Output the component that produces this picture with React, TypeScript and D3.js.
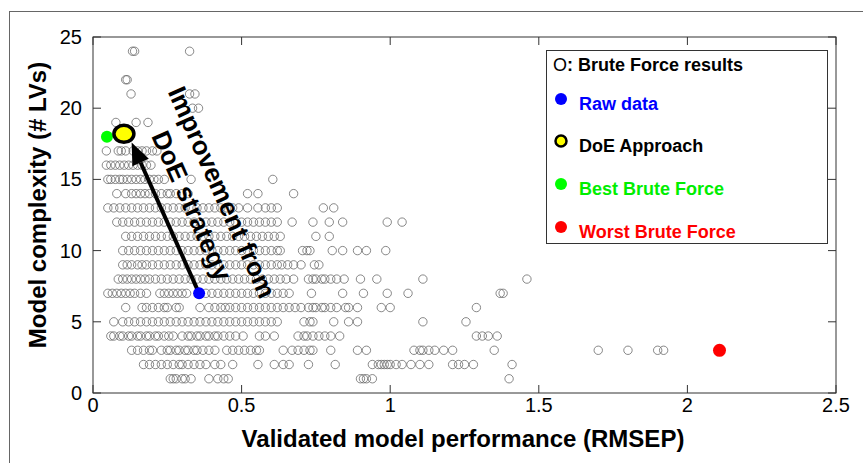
import React, { useEffect, useRef } from "react";
import * as d3 from "d3";

// brute force results, x (RMSEP) per number of LVs
const lv1 = [0.26, 0.27, 0.28, 0.30, 0.31, 0.33, 0.39, 0.42, 0.44, 0.455, 0.90, 0.91, 0.92, 0.94, 1.40];
const lv2 = [0.17, 0.19, 0.21, 0.23, 0.25, 0.27, 0.29, 0.30, 0.32, 0.34, 0.36, 0.38, 0.41, 0.43, 0.47, 0.555, 0.61, 0.64, 0.66, 0.725, 0.815, 0.94, 0.96, 0.97, 0.98, 0.99, 1.0, 1.02, 1.04, 1.07, 1.1, 1.13, 1.21, 1.23, 1.25, 1.28, 1.41];
const lv3 = [0.13, 0.15, 0.17, 0.19, 0.20, 0.23, 0.25, 0.26, 0.28, 0.29, 0.31, 0.32, 0.34, 0.35, 0.37, 0.39, 0.41, 0.45, 0.47, 0.49, 0.51, 0.53, 0.55, 0.56, 0.64, 0.67, 0.69, 0.71, 0.73, 0.74, 0.80, 0.89, 0.92, 1.08, 1.10, 1.11, 1.13, 1.15, 1.18, 1.21, 1.35, 1.70, 1.80, 1.90, 1.92];
const lv4 = [0.06, 0.07, 0.09, 0.10, 0.12, 0.13, 0.15, 0.16, 0.18, 0.19, 0.21, 0.22, 0.24, 0.255, 0.27, 0.30, 0.32, 0.33, 0.35, 0.36, 0.38, 0.39, 0.41, 0.42, 0.44, 0.46, 0.48, 0.505, 0.56, 0.58, 0.61, 0.69, 0.71, 0.72, 0.74, 0.76, 0.78, 0.80, 0.83, 1.29, 1.31, 1.33, 1.36];
const lv5 = [0.07, 0.10, 0.12, 0.14, 0.16, 0.18, 0.20, 0.22, 0.24, 0.26, 0.28, 0.30, 0.32, 0.34, 0.36, 0.38, 0.40, 0.42, 0.44, 0.46, 0.48, 0.50, 0.52, 0.54, 0.56, 0.58, 0.60, 0.62, 0.71, 0.73, 0.74, 0.81, 0.86, 0.89, 1.11, 1.255];
const lv6 = [0.11, 0.165, 0.18, 0.20, 0.22, 0.24, 0.25, 0.28, 0.29, 0.36, 0.39, 0.41, 0.43, 0.445, 0.46, 0.48, 0.50, 0.52, 0.54, 0.56, 0.58, 0.60, 0.62, 0.64, 0.66, 0.68, 0.70, 0.725, 0.74, 0.75, 0.77, 0.78, 0.80, 0.82, 0.85, 0.86, 0.89, 0.97, 1.0, 1.29];
const lv7 = [0.05, 0.065, 0.08, 0.095, 0.11, 0.125, 0.14, 0.16, 0.18, 0.225, 0.24, 0.255, 0.27, 0.285, 0.30, 0.315, 0.38, 0.40, 0.42, 0.44, 0.46, 0.48, 0.50, 0.52, 0.54, 0.56, 0.58, 0.60, 0.62, 0.64, 0.66, 0.735, 0.84, 0.91, 0.99, 1.06, 1.37, 1.38];
const lv8 = [0.085, 0.10, 0.115, 0.13, 0.145, 0.16, 0.175, 0.19, 0.21, 0.23, 0.25, 0.27, 0.29, 0.31, 0.33, 0.35, 0.37, 0.39, 0.41, 0.43, 0.45, 0.47, 0.49, 0.51, 0.53, 0.55, 0.57, 0.59, 0.61, 0.63, 0.65, 0.675, 0.725, 0.74, 0.75, 0.77, 0.78, 0.80, 0.82, 0.845, 0.90, 0.955, 1.11, 1.46];
const lv9 = [0.10, 0.115, 0.13, 0.15, 0.165, 0.18, 0.20, 0.22, 0.24, 0.26, 0.28, 0.30, 0.32, 0.34, 0.36, 0.38, 0.40, 0.42, 0.44, 0.46, 0.48, 0.50, 0.52, 0.54, 0.56, 0.58, 0.60, 0.62, 0.635, 0.655, 0.675, 0.70, 0.745, 0.76];
const lv10 = [0.10, 0.12, 0.14, 0.16, 0.18, 0.20, 0.22, 0.24, 0.26, 0.28, 0.30, 0.32, 0.34, 0.36, 0.38, 0.40, 0.42, 0.44, 0.46, 0.48, 0.50, 0.52, 0.54, 0.56, 0.58, 0.60, 0.62, 0.63, 0.705, 0.72, 0.73, 0.805, 0.84, 0.89, 0.92, 0.985];
const lv11 = [0.11, 0.13, 0.15, 0.17, 0.19, 0.21, 0.23, 0.25, 0.27, 0.29, 0.31, 0.33, 0.35, 0.37, 0.39, 0.41, 0.43, 0.45, 0.47, 0.49, 0.51, 0.53, 0.55, 0.57, 0.59, 0.61, 0.63, 0.75, 0.795];
const lv12 = [0.08, 0.10, 0.12, 0.14, 0.16, 0.18, 0.20, 0.22, 0.24, 0.26, 0.28, 0.30, 0.32, 0.34, 0.36, 0.38, 0.40, 0.42, 0.44, 0.46, 0.48, 0.50, 0.52, 0.54, 0.56, 0.58, 0.60, 0.62, 0.67, 0.74, 0.795, 0.84, 0.99, 1.04];
const lv13 = [0.05, 0.07, 0.09, 0.11, 0.13, 0.15, 0.17, 0.19, 0.21, 0.23, 0.25, 0.27, 0.29, 0.31, 0.33, 0.35, 0.37, 0.39, 0.41, 0.43, 0.45, 0.47, 0.49, 0.52, 0.555, 0.58, 0.60, 0.62, 0.775, 0.81];
const lv14 = [0.08, 0.11, 0.13, 0.145, 0.16, 0.175, 0.19, 0.21, 0.23, 0.25, 0.26, 0.28, 0.30, 0.32, 0.52, 0.555, 0.675];
const lv15 = [0.05, 0.06, 0.075, 0.09, 0.10, 0.115, 0.13, 0.145, 0.16, 0.175, 0.19, 0.205, 0.22, 0.24, 0.33, 0.605];
const lv16 = [0.045, 0.06, 0.075, 0.09, 0.105, 0.12, 0.135, 0.15, 0.165, 0.18, 0.195];
const lv17 = [0.045, 0.085, 0.095, 0.11, 0.135, 0.15, 0.165, 0.18, 0.20, 0.215];
const lv19 = [0.077, 0.145, 0.185];
const lv20 = [0.335, 0.355];
const lv21 = [0.128, 0.325, 0.343];
const lv22 = [0.11, 0.115];
const lv24 = [0.133, 0.14, 0.325];

const bruteLevels = [1, 2, 3, 4, 5, 6, 7, 8, 9, 10, 11, 12, 13, 14, 15, 16, 17, 19, 20, 21, 22, 24];
const bruteRows = [lv1, lv2, lv3, lv4, lv5, lv6, lv7, lv8, lv9, lv10, lv11, lv12, lv13, lv14, lv15, lv16, lv17, lv19, lv20, lv21, lv22, lv24];

// special points: [x, y]
const rawData = [0.357, 7];
const doeApproach = [0.104, 18.2];
const bestBrute = [0.047, 18];
const worstBrute = [2.108, 3];
const arrowTip = [0.13, 17.6];

const xTicks = [0, 0.5, 1, 1.5, 2, 2.5];
const yTicks = [0, 5, 10, 15, 20, 25];

const legendLabels = ["Raw data", "DoE Approach", "Best Brute Force", "Worst Brute Force"];
const legendColors = ["#0000ff", "#ffff00", "#00ff00", "#ff0000"];
const legendTextColors = ["#0000ff", "#000000", "#00ee00", "#ff0000"];

const FONT = "'Liberation Sans', Arial, sans-serif";

const drawChart = (el: SVGSVGElement) => {
  const svg = d3.select(el);
  svg.selectAll("*").remove();

  const x = d3.scaleLinear().domain([0, 2.5]).range([93, 836]);
  const y = d3.scaleLinear().domain([0, 25]).range([393, 37]);

  // outer figure frame
  svg.append("rect")
    .attr("x", 9.5).attr("y", 11.5).attr("width", 880).attr("height", 480)
    .attr("fill", "none").attr("stroke", "#666").attr("stroke-width", 1);

  // axes box
  svg.append("rect")
    .attr("x", x(0)).attr("y", y(25))
    .attr("width", x(2.5) - x(0)).attr("height", y(0) - y(25))
    .attr("fill", "none").attr("stroke", "#333").attr("stroke-width", 1);

  const tl = 8;
  const g = svg.append("g").attr("stroke", "#333").attr("stroke-width", 1);
  xTicks.forEach((t) => {
    g.append("line").attr("x1", x(t)).attr("x2", x(t)).attr("y1", y(0)).attr("y2", y(0) - tl);
    g.append("line").attr("x1", x(t)).attr("x2", x(t)).attr("y1", y(25)).attr("y2", y(25) + tl);
  });
  yTicks.forEach((t) => {
    g.append("line").attr("y1", y(t)).attr("y2", y(t)).attr("x1", x(0)).attr("x2", x(0) + tl);
    g.append("line").attr("y1", y(t)).attr("y2", y(t)).attr("x1", x(2.5)).attr("x2", x(2.5) - tl);
  });

  svg.append("g").selectAll("text").data(xTicks).enter().append("text")
    .attr("x", (d) => x(d)).attr("y", 412)
    .attr("text-anchor", "middle")
    .attr("font-family", FONT).attr("font-size", 20)
    .text((d) => String(d));

  svg.append("g").selectAll("text").data(yTicks).enter().append("text")
    .attr("x", 82).attr("y", (d) => y(d) + 7)
    .attr("text-anchor", "end")
    .attr("font-family", FONT).attr("font-size", 20)
    .text((d) => String(d));

  svg.append("text")
    .attr("x", 463).attr("y", 447)
    .attr("text-anchor", "middle")
    .attr("font-family", FONT).attr("font-size", 24).attr("font-weight", "bold")
    .text("Validated model performance (RMSEP)");

  svg.append("text")
    .attr("transform", "translate(46,205) rotate(-90)")
    .attr("text-anchor", "middle")
    .attr("font-family", FONT).attr("font-size", 24).attr("font-weight", "bold")
    .text("Model complexity (# LVs)");

  // brute force circles
  const pts: [number, number][] = [];
  bruteRows.forEach((row, i) => row.forEach((v) => pts.push([v, bruteLevels[i]])));
  svg.append("g").selectAll("circle").data(pts).enter().append("circle")
    .attr("cx", (d) => x(d[0])).attr("cy", (d) => y(d[1]))
    .attr("r", 4.2)
    .attr("fill", "none").attr("stroke", "#6a6a6a").attr("stroke-width", 0.8);

  // arrow from raw data to DoE
  const x0 = x(rawData[0]), y0 = y(rawData[1]);
  const x1 = x(arrowTip[0]), y1 = y(arrowTip[1]);
  const ang = Math.atan2(y1 - y0, x1 - x0);
  const hl = 22, hw = 9;
  const bx = x1 - hl * Math.cos(ang), by = y1 - hl * Math.sin(ang);
  svg.append("line")
    .attr("x1", x0).attr("y1", y0).attr("x2", bx).attr("y2", by)
    .attr("stroke", "#000").attr("stroke-width", 4);
  svg.append("path")
    .attr("d", `M${x1},${y1}L${bx + hw * Math.sin(ang)},${by - hw * Math.cos(ang)}L${bx - hw * Math.sin(ang)},${by + hw * Math.cos(ang)}Z`)
    .attr("fill", "#000");

  // special points
  svg.append("circle").attr("cx", x(rawData[0])).attr("cy", y(rawData[1])).attr("r", 6).attr("fill", "#0000ff");
  svg.append("circle").attr("cx", x(bestBrute[0])).attr("cy", y(bestBrute[1])).attr("r", 6).attr("fill", "#00ff00");
  svg.append("circle").attr("cx", x(worstBrute[0])).attr("cy", y(worstBrute[1])).attr("r", 6.5).attr("fill", "#ff0000");
  svg.append("ellipse").attr("cx", x(doeApproach[0])).attr("cy", y(doeApproach[1])).attr("rx", 10).attr("ry", 8.5)
    .attr("fill", "#ffff00").attr("stroke", "#000").attr("stroke-width", 3.5);

  // annotation
  const ann = svg.append("g")
    .attr("transform", "translate(207,199) rotate(66)")
    .attr("font-family", FONT).attr("font-size", 26).attr("font-weight", "bold")
    .attr("text-anchor", "middle");
  ann.append("text").attr("y", -16.5).attr("dominant-baseline", "central").text("Improvement from");
  ann.append("text").attr("y", 16.5).attr("dominant-baseline", "central").text("DoE strategy");

  // legend
  const lg = svg.append("g");
  lg.append("rect").attr("x", 546.5).attr("y", 50.5).attr("width", 281).attr("height", 193)
    .attr("fill", "#fff").attr("stroke", "#333").attr("stroke-width", 1);
  const t0 = lg.append("text").attr("x", 553).attr("y", 71)
    .attr("font-family", FONT).attr("font-size", 18);
  t0.append("tspan").text("O");
  t0.append("tspan").attr("font-weight", "bold").text(": Brute Force results");
  const rowY = [101, 143, 186, 229];
  legendLabels.forEach((lab, i) => {
    if (i === 1) {
      lg.append("circle").attr("cx", 561).attr("cy", rowY[i] - 2).attr("r", 5.5)
        .attr("fill", legendColors[i]).attr("stroke", "#000").attr("stroke-width", 2.5);
    } else {
      lg.append("circle").attr("cx", 561).attr("cy", rowY[i] - 2).attr("r", 6).attr("fill", legendColors[i]);
    }
    lg.append("text").attr("x", 579).attr("y", rowY[i] + 9)
      .attr("font-family", FONT).attr("font-size", 18).attr("font-weight", "bold")
      .attr("fill", legendTextColors[i])
      .text(lab);
  });
};

const App = () => {
  const ref = useRef<SVGSVGElement>(null);
  useEffect(() => {
    if (ref.current) drawChart(ref.current);
  });
  return (
    <svg ref={ref} width={863} height={463}
      style={{ position: "absolute", left: 0, top: 0, background: "#fff" }} />
  );
};

export default App;
